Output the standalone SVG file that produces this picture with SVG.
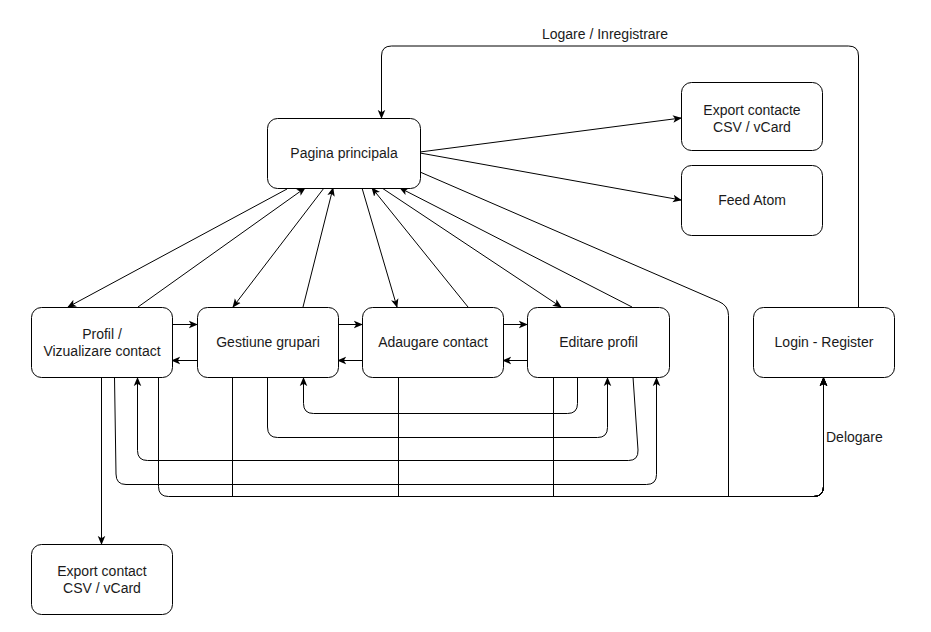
<svg xmlns="http://www.w3.org/2000/svg" width="931" height="632" viewBox="0 0 931 632">
<defs>
<marker id="arr" viewBox="0 0 10 10" refX="9" refY="5" markerWidth="9" markerHeight="9" markerUnits="userSpaceOnUse" orient="auto">
<path d="M0,0.8 L10,5 L0,9.2 L2.5,5 z" fill="#000"/>
</marker>
<style>
.box{fill:#fff;stroke:#000;stroke-width:1}
.t{font-family:"Liberation Sans",Arial,sans-serif;font-size:14px;fill:#1a1a1a;text-anchor:middle}
.lbl{font-family:"Liberation Sans",Arial,sans-serif;font-size:14px;fill:#1a1a1a}
.c{fill:none;stroke:#000;stroke-width:1}
.a{marker-end:url(#arr)}
</style>
</defs>
<rect width="931" height="632" fill="#fff"/>
<g id="connectors">
<path class="c a" d="M858.5,307 V56 Q858.5,46 848.5,46 H391.5 Q381.5,46 381.5,56 V118"/>
<path class="c a" d="M420,152 L681,118"/>
<path class="c a" d="M420,153 L681,200"/>
<path class="c a" d="M287,189 L68,307"/>
<path class="c a" d="M138,307 L305,188"/>
<path class="c a" d="M324,188 L233,307"/>
<path class="c a" d="M303,307 L333,188"/>
<path class="c a" d="M362,188 L397,307"/>
<path class="c a" d="M468,307 L372,188"/>
<path class="c a" d="M382,188 L561,307"/>
<path class="c a" d="M632,307 L400,188"/>
<path class="c a" d="M420,172 L718.8,301.5 Q728.5,305.5 728.5,315.5 V496.5 H813.5 Q823.5,496.5 823.5,486.5 V378"/>
<path class="c a" d="M101.5,377 V544"/>
<path class="c a" d="M158.5,377 V486.5 Q158.5,496.5 168.5,496.5 H813.5 Q823.5,496.5 823.5,486.5 V378"/>
<path class="c a" d="M232.5,377 V496.5 H813.5 Q823.5,496.5 823.5,486.5 V378"/>
<path class="c a" d="M398.5,377 V496.5 H813.5 Q823.5,496.5 823.5,486.5 V378"/>
<path class="c a" d="M553.5,377 V496.5 H813.5 Q823.5,496.5 823.5,486.5 V378"/>
<path class="c a" d="M267.5,377 V427 Q267.5,437.5 277.5,437.5 H597.5 Q607.5,437.5 607.5,427.5 V378"/>
<path class="c a" d="M577.5,377 V403.5 Q577.5,413.5 567.5,413.5 H313.5 Q303.5,413.5 303.5,403.5 V378"/>
<path class="c a" d="M633,377 L638,450 Q638.5,460.5 628.5,460.5 H147.5 Q137.5,460.5 137.5,450.5 V378"/>
<path class="c a" d="M114.5,377 L116,474 Q116,484.5 126,484.5 H646.5 Q656.5,484.5 656.5,474.5 V378"/>
<path class="c a" d="M172,324.5 H197"/>
<path class="c a" d="M197,360.5 H172"/>
<path class="c a" d="M338,324.5 H362"/>
<path class="c a" d="M362,360.5 H338"/>
<path class="c a" d="M503,324.5 H527"/>
<path class="c a" d="M527,360.5 H503"/>
<text class="t" x="605" y="39">Logare / Inregistrare</text>
<text class="lbl" x="826" y="442">Delogare</text>
</g>
<g id="pagina">
<rect class="box" x="267.5" y="118.5" width="153" height="70" rx="10"/>
<text class="t" x="344" y="158">Pagina principala</text>
</g>
<g id="export-contacte">
<rect class="box" x="681.5" y="82.5" width="141" height="68" rx="10"/>
<text class="t" x="752" y="115">Export contacte</text>
<text class="t" x="752" y="132">CSV / vCard</text>
</g>
<g id="feed-atom">
<rect class="box" x="681.5" y="165.5" width="141" height="70" rx="10"/>
<text class="t" x="752" y="205">Feed Atom</text>
</g>
<g id="profil">
<rect class="box" x="31.5" y="307.5" width="141" height="70" rx="10"/>
<text class="t" x="102" y="339">Profil /</text>
<text class="t" x="102" y="356">Vizualizare contact</text>
</g>
<g id="gestiune">
<rect class="box" x="197.5" y="307.5" width="141" height="70" rx="10"/>
<text class="t" x="268" y="347">Gestiune grupari</text>
</g>
<g id="adaugare">
<rect class="box" x="362.5" y="307.5" width="141" height="70" rx="10"/>
<text class="t" x="433" y="347">Adaugare contact</text>
</g>
<g id="editare">
<rect class="box" x="527.5" y="307.5" width="142" height="70" rx="10"/>
<text class="t" x="598.5" y="347">Editare profil</text>
</g>
<g id="login">
<rect class="box" x="753.5" y="307.5" width="141" height="70" rx="10"/>
<text class="t" x="824" y="347">Login - Register</text>
</g>
<g id="export-contact">
<rect class="box" x="31.5" y="544.5" width="141" height="70" rx="10"/>
<text class="t" x="102" y="576">Export contact</text>
<text class="t" x="102" y="593">CSV / vCard</text>
</g>
</svg>
